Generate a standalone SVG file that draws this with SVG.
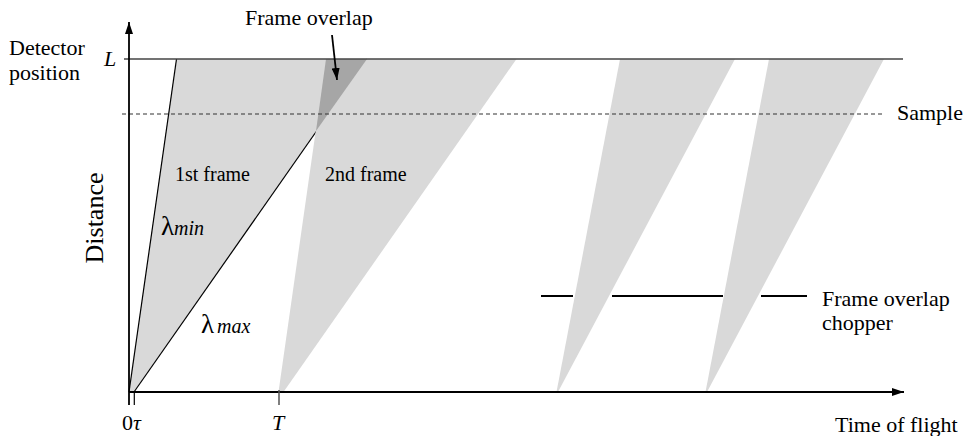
<svg xmlns="http://www.w3.org/2000/svg" width="970" height="436" viewBox="0 0 970 436">
<defs>
<style>
.t22{font-size:22px}
.t20{font-size:20px}
.it{font-style:italic}
.frame{fill:#d9d9d9;stroke:none}
.ov{fill:#a6a6a6;stroke:none}
.ln{stroke:#000;stroke-width:1.2;fill:none}
.ax{stroke:#000;stroke-width:1.8;fill:none}
</style>
<marker id="ah" viewBox="0 0 12 8" refX="12" refY="4" markerWidth="12" markerHeight="8" markerUnits="userSpaceOnUse" orient="auto">
<path d="M0,0 L12,4 L0,8 Z" fill="#000"/>
</marker>
</defs>
<rect width="970" height="436" fill="#fff"/>
<g id="frames">
<polygon class="frame" points="129,392 176.5,59 367,59 134,392"/>
<line class="ln" x1="129" y1="392" x2="176.5" y2="59"/>
<line class="ln" x1="134" y1="392" x2="367" y2="59"/>
<polygon class="frame" points="278.5,392 326,59 516.5,59 283.5,392"/>
<polygon class="ov" points="326,59 367,59 316,131"/>
<polygon class="frame" points="556.5,392 620,59 735,59 558,392"/>
<polygon class="frame" points="705.5,392 769,59 884,59 707,392"/>
</g>
<g id="lines">
<line x1="124" y1="59" x2="903" y2="59" stroke="#444" stroke-width="1.5"/>
<line x1="122" y1="114" x2="883" y2="114" stroke="#333" stroke-width="1.2" stroke-dasharray="4,3"/>
<g stroke="#000" stroke-width="2">
<line x1="541" y1="296" x2="573" y2="296"/>
<line x1="612" y1="296" x2="723" y2="296"/>
<line x1="761" y1="296" x2="807" y2="296"/>
</g>
</g>
<g id="axes">
<line class="ax" x1="129" y1="405" x2="129" y2="22" marker-end="url(#ah)"/>
<line class="ax" x1="129" y1="392" x2="904" y2="392" marker-end="url(#ah)"/>
<line x1="134.3" y1="392" x2="134.3" y2="405" stroke="#000" stroke-width="1.2"/>
<line x1="279" y1="390" x2="279" y2="405" stroke="#555" stroke-width="1.5"/>
</g>
<g id="overlap-arrow">
<line x1="332" y1="35" x2="337" y2="80" stroke="#000" stroke-width="1.8" marker-end="url(#ah)"/>
</g>
<g id="labels" font-family="'Liberation Serif', 'Times New Roman', 'DejaVu Serif', serif" fill="#000">
<text class="t22" x="245" y="25">Frame overlap</text>
<text class="t22" x="9" y="55">Detector</text>
<text class="t22" x="9" y="80">position</text>
<text class="t22 it" x="104" y="66">L</text>
<text class="t22" x="897" y="120">Sample</text>
<text class="t20" x="175" y="181">1st frame</text>
<text class="t20" x="325" y="181">2nd frame</text>
<text x="161" y="235" font-size="27px">λ<tspan class="it" font-size="20px">min</tspan></text>
<text x="201" y="333" font-size="27px">λ<tspan class="it" font-size="20px" dx="3">max</tspan></text>
<text x="103" y="218" font-size="26px" text-anchor="middle" transform="rotate(-90 103 218)">Distance</text>
<text class="t22" x="122" y="430">0</text>
<text class="t22 it" x="133" y="430">τ</text>
<text class="t22 it" x="272" y="430">T</text>
<text class="t22" x="835" y="432">Time of flight</text>
<text class="t22" x="822" y="306">Frame overlap</text>
<text class="t22" x="822" y="330">chopper</text>
</g>
</svg>
